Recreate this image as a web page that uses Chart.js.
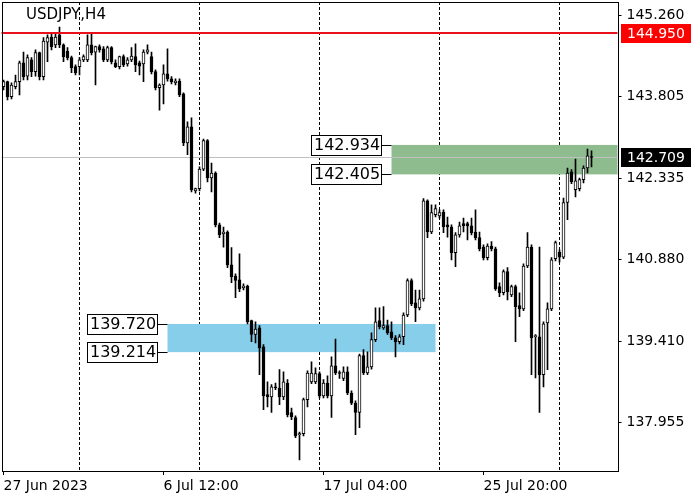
<!DOCTYPE html>
<html>
<head>
<meta charset="utf-8">
<title>USDJPY,H4</title>
<script src="https://cdn.jsdelivr.net/npm/chart.js@4.4.0/dist/chart.umd.min.js"></script>
<style>
    html, body { margin: 0; padding: 0; background: #fff; }
    canvas { display: block; }
</style>
</head>
<body>
<canvas id="priceChart" width="700" height="500"></canvas>
<script>
var symbolTitle = 'USDJPY,H4';

// H4 candles, first bar 27 Jun 20:00
var opens = [143.98, 144.07, 143.80, 143.98, 144.07, 144.41, 144.17, 144.46, 144.25, 144.59,
    144.16, 144.78, 144.87, 144.73, 144.91, 144.73, 144.62, 144.50, 144.34, 144.34,
    144.46, 144.46, 144.73, 144.60, 144.70, 144.66, 144.46, 144.68, 144.41, 144.34,
    144.52, 144.39, 144.46, 144.52, 144.41, 144.39, 144.60, 144.52, 144.25, 143.96,
    144.01, 144.21, 144.12, 144.05, 144.08, 143.85, 142.97, 143.26, 142.11, 142.15,
    142.50, 143.01, 142.34, 142.43, 141.50, 141.34, 141.37, 140.78, 140.58, 140.51,
    140.37, 140.40, 139.78, 139.53, 139.65, 139.31, 138.45, 138.41, 138.59, 138.57,
    138.41, 138.66, 138.13, 138.04, 137.73, 137.75, 138.36, 138.68, 138.68, 138.83,
    138.43, 138.66, 138.43, 138.97, 138.84, 138.74, 138.86, 138.48, 138.30, 138.13,
    139.15, 138.84, 138.95, 139.44, 139.78, 139.65, 139.69, 139.58, 139.47, 139.40,
    139.49, 139.88, 140.50, 140.10, 140.01, 140.17, 141.93, 141.37, 141.68, 141.66,
    141.73, 141.50, 141.46, 141.00, 141.32, 141.52, 141.52, 141.48, 141.37, 141.27,
    141.10, 140.91, 141.12, 141.07, 140.39, 140.28, 140.66, 140.24, 140.39, 140.05,
    139.99, 140.76, 141.10, 139.49, 139.49, 138.81, 139.74, 139.99, 140.89, 141.01,
    140.92, 141.90, 142.45, 142.13, 142.15, 142.31, 142.52, 142.72];
var highs = [144.10, 144.08, 144.05, 144.19, 144.44, 144.60, 144.55, 144.50, 144.64, 144.60,
    144.86, 144.91, 144.93, 144.95, 145.05, 144.75, 144.68, 144.53, 144.37, 144.50,
    144.55, 144.91, 144.93, 144.71, 144.73, 144.70, 144.71, 144.70, 144.46, 144.53,
    144.55, 144.50, 144.68, 144.75, 144.44, 144.64, 144.73, 144.60, 144.28, 144.03,
    144.37, 144.66, 144.16, 144.12, 144.12, 143.87, 143.35, 143.42, 142.16, 142.54,
    143.04, 143.03, 142.61, 142.45, 141.53, 141.46, 141.39, 141.09, 140.62, 140.98,
    140.44, 140.42, 139.79, 139.76, 139.69, 139.35, 138.68, 138.63, 138.66, 138.90,
    138.86, 138.72, 138.21, 138.07, 137.78, 138.39, 138.88, 139.04, 138.93, 138.86,
    138.72, 138.79, 139.13, 139.45, 138.88, 138.95, 138.95, 138.52, 138.34, 139.18,
    139.26, 139.22, 139.56, 140.01, 140.01, 140.03, 139.79, 139.76, 139.51, 139.53,
    139.92, 140.53, 140.53, 140.33, 140.33, 141.97, 141.95, 141.86, 141.86, 141.77,
    141.77, 141.64, 141.50, 141.36, 141.55, 141.62, 141.55, 141.62, 141.77, 141.37,
    141.14, 141.16, 141.20, 141.10, 140.46, 140.69, 140.73, 140.42, 140.42, 140.28,
    140.80, 141.36, 141.14, 139.53, 141.10, 139.76, 140.10, 140.91, 141.21, 141.05,
    141.98, 142.52, 142.49, 142.68, 142.34, 142.56, 142.86, 142.83];
var lows = [143.92, 143.74, 143.76, 143.94, 143.83, 144.10, 144.10, 144.16, 144.17, 144.10,
    144.10, 144.43, 144.64, 144.68, 144.68, 144.43, 144.46, 144.23, 144.19, 144.19,
    144.43, 144.43, 144.55, 144.01, 144.60, 144.43, 144.43, 144.39, 144.32, 144.30,
    144.34, 144.35, 144.43, 144.25, 144.19, 144.07, 144.57, 144.21, 143.92, 143.56,
    143.67, 144.08, 144.03, 144.01, 143.80, 142.92, 142.76, 142.09, 142.07, 142.11,
    142.47, 142.27, 142.09, 141.46, 141.27, 141.10, 140.73, 140.46, 140.19, 140.30,
    140.33, 139.72, 139.40, 139.38, 138.81, 138.18, 138.23, 138.13, 138.54, 138.27,
    138.36, 138.05, 138.00, 137.68, 137.28, 137.71, 138.23, 138.65, 138.65, 138.39,
    138.39, 138.39, 138.04, 138.81, 138.74, 138.70, 138.45, 138.27, 137.73, 137.86,
    138.81, 138.81, 138.91, 139.40, 139.63, 139.62, 139.53, 139.44, 139.13, 139.36,
    139.35, 139.85, 140.05, 139.76, 139.97, 140.13, 141.27, 141.34, 141.64, 141.62,
    141.36, 141.28, 140.87, 140.75, 141.28, 141.37, 141.23, 141.32, 141.23, 141.03,
    140.87, 140.87, 141.03, 140.32, 140.21, 140.24, 140.15, 140.21, 139.40, 139.85,
    139.96, 140.73, 138.81, 138.75, 138.13, 138.59, 138.90, 139.96, 140.85, 140.83,
    140.89, 141.59, 142.24, 142.00, 142.11, 142.25, 142.43, 142.54];
var closes = [144.07, 143.80, 144.01, 144.07, 144.41, 144.16, 144.50, 144.25, 144.59, 144.16,
    144.80, 144.86, 144.70, 144.87, 144.73, 144.52, 144.50, 144.32, 144.23, 144.46,
    144.52, 144.73, 144.59, 144.70, 144.64, 144.46, 144.68, 144.43, 144.34, 144.52,
    144.37, 144.46, 144.53, 144.37, 144.35, 144.60, 144.64, 144.25, 143.96, 144.01,
    144.21, 144.12, 144.07, 144.08, 143.83, 142.97, 143.26, 142.13, 142.15, 142.50,
    143.01, 142.34, 142.43, 141.50, 141.32, 141.37, 140.78, 140.57, 140.50, 140.35,
    140.40, 139.76, 139.53, 139.63, 139.29, 138.43, 138.41, 138.59, 138.57, 138.41,
    138.68, 138.09, 138.05, 137.71, 137.75, 138.36, 138.84, 138.84, 138.83, 138.43,
    138.66, 138.43, 138.97, 138.84, 138.83, 138.86, 138.48, 138.30, 138.13, 139.15,
    138.84, 138.95, 139.44, 139.76, 139.67, 139.69, 139.56, 139.47, 139.40, 139.49,
    139.88, 140.50, 140.08, 140.01, 140.17, 141.93, 141.37, 141.72, 141.79, 141.72,
    141.46, 141.46, 141.00, 141.32, 141.48, 141.48, 141.48, 141.36, 141.27, 141.07,
    140.91, 141.12, 141.07, 140.35, 140.28, 140.66, 140.30, 140.39, 140.03, 139.99,
    140.76, 141.10, 139.47, 139.51, 138.81, 139.72, 139.99, 140.87, 141.18, 140.92,
    141.90, 142.43, 142.27, 142.29, 142.31, 142.52, 142.74, 142.709];

var emptySlots = 6; // chart shift on the right
var yTickValues = [137.955, 139.410, 140.880, 142.335, 143.805, 145.260];
var xTickIndexes = [0, 40, 80, 120];
var xTickLabels = ['27 Jun 2023', '6 Jul 12:00', '17 Jul 04:00', '25 Jul 20:00'];
var gridIndexes = [19, 49, 79, 109, 139];

var resistanceLevel = 144.950;
var lastPrice = 142.709;
var greenZone = [142.934, 142.405];
var greenZoneFrom = 97;
var blueZone = [139.720, 139.214];
var blueZoneFrom = 41;
var blueZoneTo = 108;

var FONT = '"DejaVu Sans", Verdana, sans-serif';
Chart.defaults.font.family = FONT;
Chart.defaults.color = '#000';

var slots = [];
for (var i = 0; i < opens.length + emptySlots; i++) {
    slots.push(i);
}

function drawZone(chart, zone, fromIdx, toIdx, color) {
    var ctx = chart.ctx;
    var area = chart.chartArea;
    var left = chart.scales.x.getPixelForValue(fromIdx);
    var right = toIdx === null ? area.right : chart.scales.x.getPixelForValue(toIdx);
    var top = chart.scales.y.getPixelForValue(zone[0]);
    var bottom = chart.scales.y.getPixelForValue(zone[1]);
    ctx.fillStyle = color;
    ctx.fillRect(left, top, right - left, bottom - top);
}

function zoneTag(chart, price, zoneLeft) {
    var ctx = chart.ctx;
    var text = price.toFixed(3);
    var cy = Math.round(chart.scales.y.getPixelForValue(price));
    ctx.font = '16px ' + FONT;
    var w = Math.round(ctx.measureText(text).width) + 5;
    var h = 21;
    var right = Math.round(zoneLeft) - 10;
    var l = right - w;
    var t = cy - 10;
    ctx.fillStyle = '#fff';
    ctx.fillRect(l, t, w, h);
    ctx.strokeStyle = '#000';
    ctx.lineWidth = 1;
    ctx.strokeRect(l + 0.5, t + 0.5, w - 1, h - 1);
    ctx.beginPath();
    ctx.moveTo(right, cy + 0.5);
    ctx.lineTo(zoneLeft, cy + 0.5);
    ctx.stroke();
    ctx.fillStyle = '#000';
    ctx.textAlign = 'left';
    ctx.textBaseline = 'middle';
    ctx.fillText(text, l + 3, cy + 1);
}

function axisTag(chart, price, bg, fg) {
    var ctx = chart.ctx;
    var cy = Math.round(chart.scales.y.getPixelForValue(price));
    var l = Math.round(chart.chartArea.right) + 3;
    ctx.fillStyle = bg;
    ctx.fillRect(l, cy - 9, 70, 19);
    ctx.fillStyle = fg;
    ctx.font = '14px ' + FONT;
    ctx.textAlign = 'left';
    ctx.textBaseline = 'middle';
    ctx.fillText(price.toFixed(3), l + 6, cy + 1);
}

var overlayPlugin = {
    id: 'overlays',
    beforeDatasetsDraw: function (chart) {
        var ctx = chart.ctx;
        var area = chart.chartArea;
        ctx.save();
        drawZone(chart, greenZone, greenZoneFrom, null, '#8fbc8f');
        drawZone(chart, blueZone, blueZoneFrom, blueZoneTo, '#87ceeb');

        var py = Math.round(chart.scales.y.getPixelForValue(lastPrice)) + 0.5;
        ctx.strokeStyle = '#c0c0c0';
        ctx.lineWidth = 1;
        ctx.beginPath();
        ctx.moveTo(area.left, py);
        ctx.lineTo(area.right, py);
        ctx.stroke();
        ctx.restore();
    },
    afterDatasetsDraw: function (chart) {
        var ctx = chart.ctx;
        var area = chart.chartArea;
        ctx.save();
        var ry = Math.round(chart.scales.y.getPixelForValue(resistanceLevel));
        ctx.strokeStyle = '#e8101a';
        ctx.lineWidth = 2;
        ctx.beginPath();
        ctx.moveTo(area.left, ry);
        ctx.lineTo(area.right, ry);
        ctx.stroke();

        var gx = chart.scales.x.getPixelForValue(greenZoneFrom);
        zoneTag(chart, greenZone[0], gx);
        zoneTag(chart, greenZone[1], gx);
        var bx = chart.scales.x.getPixelForValue(blueZoneFrom);
        zoneTag(chart, blueZone[0], bx);
        zoneTag(chart, blueZone[1], bx);

        ctx.fillStyle = '#000';
        ctx.font = '15px ' + FONT;
        ctx.textAlign = 'left';
        ctx.textBaseline = 'alphabetic';
        ctx.fillText(symbolTitle, 26, 19);
        ctx.restore();
    },
    afterDraw: function (chart) {
        var ctx = chart.ctx;
        var a = chart.chartArea;
        ctx.save();
        ctx.strokeStyle = '#000';
        ctx.lineWidth = 1;
        ctx.strokeRect(Math.round(a.left) + 0.5, Math.round(a.top) + 0.5,
            Math.round(a.right - a.left), Math.round(a.bottom - a.top));
        axisTag(chart, resistanceLevel, '#f00', '#fff');
        axisTag(chart, lastPrice, '#000', '#fff');
        ctx.restore();
    }
};

var ctx = document.getElementById('priceChart').getContext('2d');
new Chart(ctx, {
    type: 'bar',
    data: {
        labels: slots,
        datasets: [{
            label: 'body',
            data: opens.map(function (o, i) { return [o, closes[i]]; }),
            backgroundColor: function (c) {
                return closes[c.dataIndex] >= opens[c.dataIndex] ? '#fff' : '#000';
            },
            borderColor: '#000',
            borderWidth: 1,
            borderSkipped: false,
            barThickness: 3,
            minBarLength: 1,
            grouped: false,
            order: 0
        }, {
            label: 'wick',
            data: lows.map(function (l, i) { return [l, highs[i]]; }),
            backgroundColor: '#000',
            borderWidth: 0,
            barThickness: 1,
            grouped: false,
            order: 1
        }]
    },
    options: {
        responsive: false,
        animation: false,
        events: [],
        layout: { padding: { left: 1.5, top: 2, right: 0, bottom: 0 } },
        plugins: {
            legend: { display: false },
            tooltip: { enabled: false }
        },
        scales: {
            x: {
                type: 'category',
                offset: true,
                afterFit: function (s) {
                    s.height = 29;
                    s.paddingLeft = 0;
                    s.paddingRight = 0;
                },
                border: { display: false, dash: [3, 2] },
                grid: {
                    offset: false,
                    lineWidth: 1,
                    tickLength: 4,
                    color: function (c) {
                        return gridIndexes.indexOf(c.index) >= 0 ? '#000' : 'rgba(0,0,0,0)';
                    },
                    tickColor: function (c) {
                        return xTickIndexes.indexOf(c.index) >= 0 ? '#000' : 'rgba(0,0,0,0)';
                    }
                },
                ticks: {
                    autoSkip: false,
                    maxRotation: 0,
                    minRotation: 0,
                    align: 'start',
                    padding: 3,
                    font: { size: 14 },
                    callback: function (v, i) {
                        var k = xTickIndexes.indexOf(i);
                        return k >= 0 ? xTickLabels[k] : '';
                    }
                }
            },
            y: {
                position: 'right',
                min: 137.08,
                max: 145.50,
                afterBuildTicks: function (s) {
                    s.ticks = yTickValues.map(function (v) { return { value: v }; });
                },
                afterFit: function (s) {
                    s.width = 82.5;
                    s.paddingTop = 0;
                    s.paddingBottom = 0;
                },
                border: { display: false },
                grid: {
                    drawOnChartArea: false,
                    tickLength: 4,
                    color: '#000'
                },
                ticks: {
                    padding: 5,
                    font: { size: 14 },
                    callback: function (v) { return v.toFixed(3); }
                }
            }
        }
    },
    plugins: [overlayPlugin]
});
</script>
</body>
</html>
